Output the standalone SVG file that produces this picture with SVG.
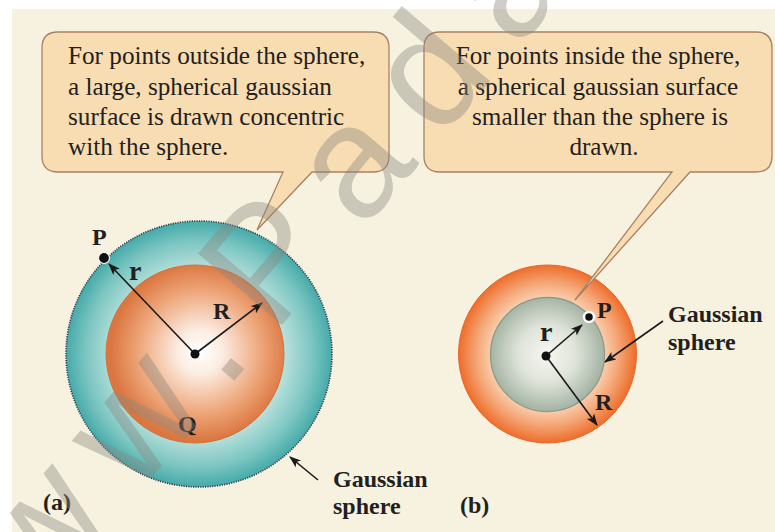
<svg xmlns="http://www.w3.org/2000/svg" width="775" height="532" viewBox="0 0 775 532">
  <style>
    .box { fill: #F8DCB2; stroke: #A98066; stroke-width: 1.3; }
    .btxt { font-family: "Liberation Serif", "Times New Roman", serif; font-size: 25.2px; fill: #231F20; }
    .lbl { font-family: "Liberation Serif", "Times New Roman", serif; font-size: 24px; font-weight: bold; fill: #231F20; }
    .lr { font-size: 28px; }
    .arr { stroke: #1A1A1A; stroke-width: 1.6; fill: none; marker-end: url(#ah); }
    .dot { fill: #111111; }
    .wm { font-family: "Liberation Sans", Arial, sans-serif; font-size: 160px; letter-spacing: 30px; fill: #8A8780; opacity: 0.4; }
  </style>
  <defs>
    <marker id="ah" viewBox="0 0 12 9" refX="11" refY="4.5" markerWidth="12" markerHeight="9" markerUnits="userSpaceOnUse" orient="auto">
      <path d="M0,0 L12,4.5 L0,9 L3,4.5 Z" fill="#1A1A1A"/>
    </marker>
    <radialGradient id="tealG" gradientUnits="userSpaceOnUse" cx="199" cy="354" r="133">
      <stop offset="0" stop-color="#E8F6F3"/>
      <stop offset="0.62" stop-color="#C0E3DE"/>
      <stop offset="0.85" stop-color="#7CC6C2"/>
      <stop offset="1" stop-color="#45AAA9"/>
    </radialGradient>
    <radialGradient id="orangeA" gradientUnits="userSpaceOnUse" cx="200" cy="352" r="89">
      <stop offset="0" stop-color="#FFFFFF"/>
      <stop offset="0.25" stop-color="#FCEDE2"/>
      <stop offset="0.7" stop-color="#EDA477"/>
      <stop offset="1" stop-color="#DB7640"/>
    </radialGradient>
    <radialGradient id="orangeB" gradientUnits="userSpaceOnUse" cx="547.5" cy="354" r="89">
      <stop offset="0" stop-color="#FFFFFF"/>
      <stop offset="0.62" stop-color="#FAD2B3"/>
      <stop offset="0.8" stop-color="#F5A676"/>
      <stop offset="1" stop-color="#EE6D2B"/>
    </radialGradient>
    <radialGradient id="grayB" gradientUnits="userSpaceOnUse" cx="547" cy="354" r="57">
      <stop offset="0" stop-color="#F7F7F1"/>
      <stop offset="0.5" stop-color="#DFE4DA"/>
      <stop offset="1" stop-color="#A5B4A4"/>
    </radialGradient>
  </defs>

  <g id="background">
    <rect x="0" y="0" width="775" height="532" fill="#FFFFFF"/>
    <rect x="12" y="9" width="763" height="523" fill="#F6F2DF"/>
  </g>

  <g id="sphere-a">
    <circle cx="199" cy="354" r="133" fill="url(#tealG)" stroke="#2E3B4E" stroke-width="1.6" stroke-dasharray="1.2 1.2"/>
    <circle cx="195" cy="354" r="89" fill="url(#orangeA)" stroke="#D56F38" stroke-width="1"/>
  </g>

  <g id="sphere-b">
    <circle cx="547.5" cy="354" r="89" fill="url(#orangeB)" stroke="#E8662A" stroke-width="1"/>
    <circle cx="547.5" cy="354.5" r="57" fill="url(#grayB)" stroke="#8C9C8A" stroke-width="1.3"/>
  </g>

  <g id="callout-a">
    <path class="box" d="M58,32 H373 Q389,32 389,48 V156 Q389,172 373,172 H312 L257,230 L283,172 H58 Q42,172 42,156 V48 Q42,32 58,32 Z"/>
    <text class="btxt" x="68" y="64">For points outside the sphere,</text>
    <text class="btxt" x="68" y="94.5">a large, spherical gaussian</text>
    <text class="btxt" x="68" y="125">surface is drawn concentric</text>
    <text class="btxt" x="68" y="155">with the sphere.</text>
  </g>

  <g id="callout-b">
    <path class="box" d="M440,32 H756 Q772,32 772,48 V156 Q772,172 756,172 H690 L575,300 L672,172 H440 Q424,172 424,156 V48 Q424,32 440,32 Z"/>
    <g text-anchor="middle">
      <text class="btxt" x="598" y="64">For points inside the sphere,</text>
      <text class="btxt" x="598" y="94.5">a spherical gaussian surface</text>
      <text class="btxt" x="600" y="125">smaller than the sphere is</text>
      <text class="btxt" x="604" y="155">drawn.</text>
    </g>
  </g>

  <g id="connectors">
    <line class="arr" x1="195" y1="354" x2="109" y2="264"/>
    <line class="arr" x1="195" y1="354" x2="262" y2="303"/>
    <line class="arr" x1="318" y1="480" x2="290" y2="457"/>
    <line class="arr" x1="546" y1="356" x2="582" y2="325"/>
    <line class="arr" x1="546" y1="356" x2="597" y2="425"/>
    <line class="arr" x1="663" y1="321" x2="605" y2="362"/>
  </g>

  <g id="points">
    <circle class="dot" cx="195" cy="354" r="4.5"/>
    <circle class="dot" cx="104" cy="258" r="5.5" stroke="#FFFFFF" stroke-width="1.2"/>
    <circle class="dot" cx="546" cy="356" r="4.5"/>
    <circle class="dot" cx="589" cy="317" r="5" stroke="#FFFFFF" stroke-width="2.5"/>
  </g>

  <g id="labels-a">
    <text class="lbl" x="92" y="245">P</text>
    <text class="lbl lr" x="129" y="280">r</text>
    <text class="lbl" x="213" y="319">R</text>
    <text class="lbl" x="178" y="432">Q</text>
    <text class="lbl" x="333" y="487">Gaussian</text>
    <text class="lbl" x="333" y="514">sphere</text>
    <text class="lbl" x="43" y="510">(a)</text>
  </g>

  <g id="labels-b">
    <text class="lbl" x="597" y="318">P</text>
    <text class="lbl lr" x="540" y="341">r</text>
    <text class="lbl" x="595" y="410">R</text>
    <text class="lbl" x="668" y="322">Gaussian</text>
    <text class="lbl" x="668" y="350">sphere</text>
    <text class="lbl" x="460" y="513">(b)</text>
  </g>

  <g id="watermark">
    <text class="wm" x="-53" y="717" transform="rotate(-49.5 -53 717)">www.Padasalai.Net</text>
  </g>
</svg>
